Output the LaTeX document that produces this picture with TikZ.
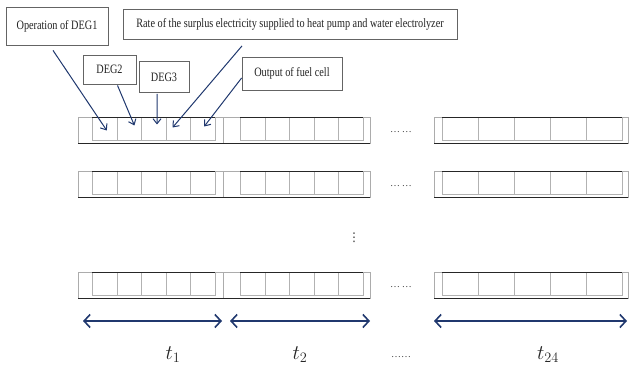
\documentclass[tikz,border=0pt]{standalone}
\usepackage{fontspec}
\setmainfont{Liberation Serif}
\newfontfamily\labfont[FakeStretch=0.8]{Liberation Serif}
\newfontfamily\dejavu{DejaVu Sans}
\usetikzlibrary{arrows.meta,calc}
\definecolor{navy}{RGB}{32,56,110}
\definecolor{boxline}{RGB}{100,100,100}
\definecolor{labtext}{RGB}{35,35,35}
\begin{document}
\begin{tikzpicture}[x=1pt,y=-1pt,
  lab/.style={draw=boxline, line width=0.8pt, fill=white, inner sep=0pt,
    font=\labfont\fontsize{12.8}{14}\selectfont, text=labtext},
  conn/.style={draw=navy, line width=1pt, -{Straight Barb[length=5pt,width=8pt]}},
  span/.style={draw=navy, line width=1.6pt,
    {Straight Barb[length=6pt,width=13pt]}-{Straight Barb[length=6pt,width=13pt]}},
  cell/.style={draw=gray!60, line width=1pt, inner sep=0pt, anchor=north west},
  tlab/.style={font=\fontsize{20}{20}\selectfont, text=black!85},
  dotlab/.style={font=\fontsize{10}{10}\selectfont, text=black!75}
]
\useasboundingbox (0,0) rectangle (629,371);

% rows of cells
\foreach \r/\ty in {1/117, 2/171, 3/272} {
  \foreach \g/\xa/\xb/\xc/\xd in {1/78/223/92/215, 2/223/370/240/363, 3/434/628/442/622} {
    \draw[gray!65, line width=0.7pt] (\xa,\ty) rectangle (\xb,\ty+26);
    \draw[black!85, line width=0.9pt] (\xa,\ty+26) -- (\xb,\ty+26);
    \pgfmathsetmacro\w{(\xd-\xc)/5}
    \foreach \k in {1,...,5} {
      \node[cell, minimum width=\w pt, minimum height=23pt] (c\r\g\k) at ({\xc+(\k-1)*\w}, \ty+0.5) {};
    }
    \draw[black!85, line width=1pt] (\xc,\ty+0.5) -- (\xd,\ty+0.5);
  }
  \node[dotlab] (dots\r) at (401,\ty+15) {\ldots\,\ldots};
}

\node[font=\dejavu\fontsize{12}{12}\selectfont, text=black!80] (vd) at (354,238) {⋮};

% label boxes
\node[lab, minimum width=102pt, minimum height=38pt] (op) at (57,26) {Operation of DEG1};
\node[lab, minimum width=334pt, minimum height=30pt] (rate) at (290,24.5) {Rate of the surplus electricity supplied to heat pump and water electrolyzer};
\node[lab, minimum width=53pt, minimum height=29pt] (deg2) at (109.5,69.5) {DEG2};
\node[lab, minimum width=50pt, minimum height=31pt] (deg3) at (164,77) {DEG3};
\node[lab, minimum width=100pt, minimum height=33pt] (out) at (292,73.5) {Output of fuel cell};

% connectors
\draw[conn] ($(op.south)+(-4,5)$) -- ($(c111.center)+(2,1)$);
\draw[conn] ($(deg2.south)+(8,1)$) -- ($(c112.center)+(5,-4)$);
\draw[conn] ($(deg3.south)+(-7,1)$) -- ($(c113.center)+(3,-5)$);
\draw[conn] ($(rate.south)+(-48,6)$) -- ($(c114.center)+(-6,-2)$);
\draw[conn] ($(out.west)+(0,4.5)$) -- ($(c115.center)+(1,-3)$);

% time spans
\coordinate (s1a) at (83,321);  \coordinate (s1b) at (222,321);
\coordinate (s2a) at (230,321); \coordinate (s2b) at (370,321);
\coordinate (s3a) at (434,321); \coordinate (s3b) at (627,321);
\draw[span] (s1a) -- (s1b);
\draw[span] (s2a) -- (s2b);
\draw[span] (s3a) -- (s3b);

\node[tlab] (t1) at (173,355) {$t_1$};
\node[tlab] (t2) at (300,355) {$t_2$};
\node[dotlab] (tdots) at (401,357) {\ldots\ldots};
\node[tlab] (t24) at (548,355) {$t_{24}$};
\end{tikzpicture}
\end{document}
